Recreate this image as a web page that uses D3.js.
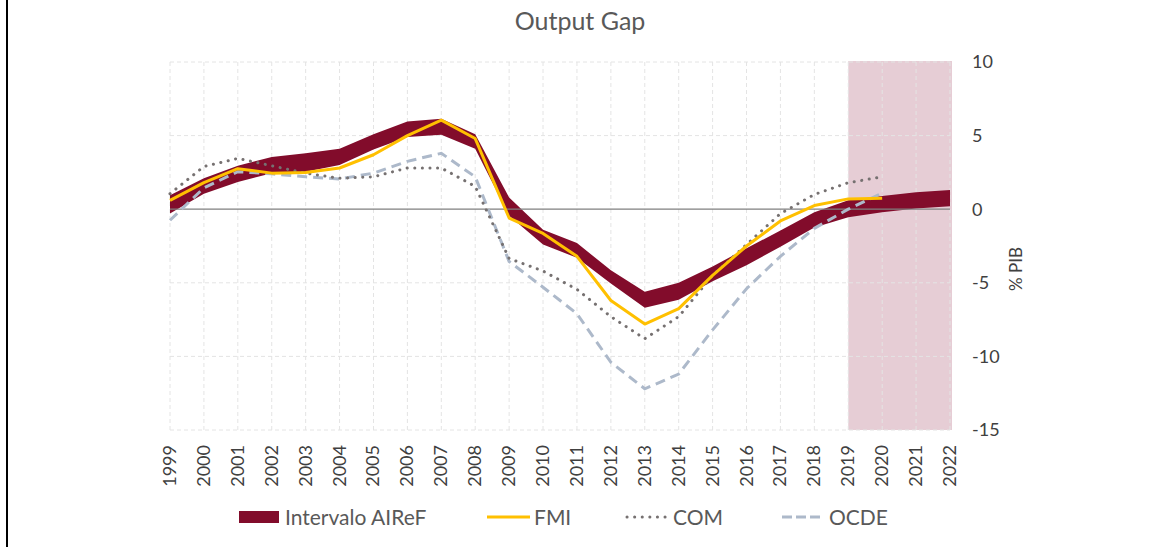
<!DOCTYPE html>
<html>
<head>
<meta charset="utf-8">
<script src="https://cdn.jsdelivr.net/npm/d3@7"></script>
<style>
  body { margin: 0; background: #fff; }
  svg { display: block; font-family: Lato, "Open Sans", sans-serif; }
</style>
</head>
<body>
<div id="chart"></div>
<script>
const years = d3.range(1999, 2023);
const airefUpper = [0.95, 2.1, 2.95, 3.55, 3.8, 4.1, 5.1, 5.95, 6.15, 5.1, 0.8, -1.4, -2.3, -4.15, -5.6, -5.0, -3.9, -2.65, -1.45, -0.2, 0.6, 0.9, 1.15, 1.3];
const airefLower = [-0.3, 1.05, 1.85, 2.45, 2.55, 3.0, 4.05, 4.9, 5.05, 4.1, -0.45, -2.4, -3.3, -5.05, -6.7, -6.15, -4.9, -3.8, -2.55, -1.25, -0.55, -0.2, 0.05, 0.2];
const fmi = [0.6, 1.8, 2.75, 2.45, 2.5, 2.8, 3.7, 5.0, 6.05, 4.8, -0.6, -1.65, -3.2, -6.2, -7.8, -6.75, -4.5, -2.5, -0.8, 0.25, 0.7, 0.75];
const com = [1.05, 2.9, 3.45, 2.95, 2.45, 2.1, 2.2, 2.8, 2.8, 1.55, -3.35, -4.2, -5.45, -7.3, -8.8, -7.3, -4.5, -2.4, -0.3, 1.0, 1.8, 2.2];
const ocde = [-0.75, 1.45, 2.55, 2.4, 2.2, 2.05, 2.45, 3.25, 3.8, 2.2, -3.55, -5.3, -7.1, -10.4, -12.2, -11.2, -8.2, -5.4, -3.2, -1.3, 0.0, 1.1];
const yTicks = [10, 5, 0, -5, -10, -15];
const forecastStart = 2019, forecastEnd = 2022;

const W = 1161, H = 547;
const svg = d3.select("#chart").append("svg").attr("width", W).attr("height", H);

// left frame line
svg.append("line").attr("x1", 7).attr("x2", 7).attr("y1", 0).attr("y2", H)
  .attr("stroke", "#000").attr("stroke-width", 2);

const x = d3.scaleLinear().domain([1999, 2022]).range([170, 950]);
const y = d3.scaleLinear().domain([-15, 10]).range([430, 62]);

// forecast shading
svg.append("rect")
  .attr("x", x(forecastStart)).attr("y", y(10) - 1)
  .attr("width", x(forecastEnd) - x(forecastStart) + 2)
  .attr("height", y(-15) - y(10) + 1)
  .attr("fill", "#e6cdd5");

// grid
const grid = svg.append("g").attr("stroke", "#e4e4e4").attr("stroke-dasharray", "4,3").attr("stroke-width", 1);
grid.selectAll(".v").data(years).join("line")
  .attr("x1", d => x(d)).attr("x2", d => x(d)).attr("y1", y(10)).attr("y2", y(-15));
grid.selectAll(".h").data(yTicks.filter(d => d !== 0)).join("line")
  .attr("x1", x(1999)).attr("x2", x(2022)).attr("y1", d => y(d)).attr("y2", d => y(d));

// AIReF band
const band = d3.area()
  .x((d, i) => x(years[i]))
  .y0((d, i) => y(airefLower[i]))
  .y1(d => y(d));
svg.append("path").datum(airefUpper).attr("d", band).attr("fill", "#820c2b");

// zero line
svg.append("line").attr("x1", x(1999)).attr("x2", x(2022)).attr("y1", y(0)).attr("y2", y(0))
  .attr("stroke", "#7f7f7f").attr("stroke-width", 1.3);

const line = d3.line().x((d, i) => x(years[i])).y(d => y(d));

svg.append("path").datum(ocde).attr("d", line).attr("fill", "none")
  .attr("stroke", "#adb9ca").attr("stroke-width", 3).attr("stroke-dasharray", "10,6");
svg.append("path").datum(com).attr("d", line).attr("fill", "none")
  .attr("stroke", "#767171").attr("stroke-width", 3).attr("stroke-linecap", "round")
  .attr("stroke-dasharray", "0.1,7.5");
svg.append("path").datum(fmi).attr("d", line).attr("fill", "none")
  .attr("stroke", "#ffc000").attr("stroke-width", 3).attr("stroke-linejoin", "round");

// right axis labels
svg.append("g").selectAll("text").data(yTicks).join("text")
  .attr("x", 972).attr("y", d => y(d)).attr("dy", "0.35em")
  .attr("font-size", 18).attr("fill", "#404040")
  .text(d => d);

svg.append("text")
  .attr("transform", `translate(1022,269) rotate(-90)`)
  .attr("text-anchor", "middle").attr("font-size", 17).attr("fill", "#404040")
  .text("% PIB");

// x labels
svg.append("g").selectAll("text").data(years).join("text")
  .attr("transform", d => `translate(${x(d) + 6},445) rotate(-90)`)
  .attr("text-anchor", "end").attr("font-size", 18).attr("fill", "#404040")
  .text(d => d);

// title
svg.append("text").attr("x", 580).attr("y", 30).attr("text-anchor", "middle")
  .attr("font-size", 25).attr("fill", "#595959").text("Output Gap");

// legend
const lg = svg.append("g").attr("font-size", 21).attr("fill", "#595959");
lg.append("rect").attr("x", 239).attr("y", 511).attr("width", 40).attr("height", 12).attr("fill", "#820c2b");
lg.append("text").attr("x", 285).attr("y", 525).text("Intervalo AIReF");
lg.append("line").attr("x1", 487).attr("x2", 530).attr("y1", 517).attr("y2", 517)
  .attr("stroke", "#ffc000").attr("stroke-width", 3);
lg.append("text").attr("x", 534).attr("y", 525).text("FMI");
lg.append("line").attr("x1", 627).attr("x2", 670).attr("y1", 517).attr("y2", 517)
  .attr("stroke", "#767171").attr("stroke-width", 3).attr("stroke-linecap", "round").attr("stroke-dasharray", "0.1,7.5");
lg.append("text").attr("x", 673).attr("y", 525).text("COM");
lg.append("line").attr("x1", 782).attr("x2", 824).attr("y1", 517).attr("y2", 517)
  .attr("stroke", "#adb9ca").attr("stroke-width", 3).attr("stroke-dasharray", "10,4");
lg.append("text").attr("x", 829).attr("y", 525).text("OCDE");
</script>
</body>
</html>
